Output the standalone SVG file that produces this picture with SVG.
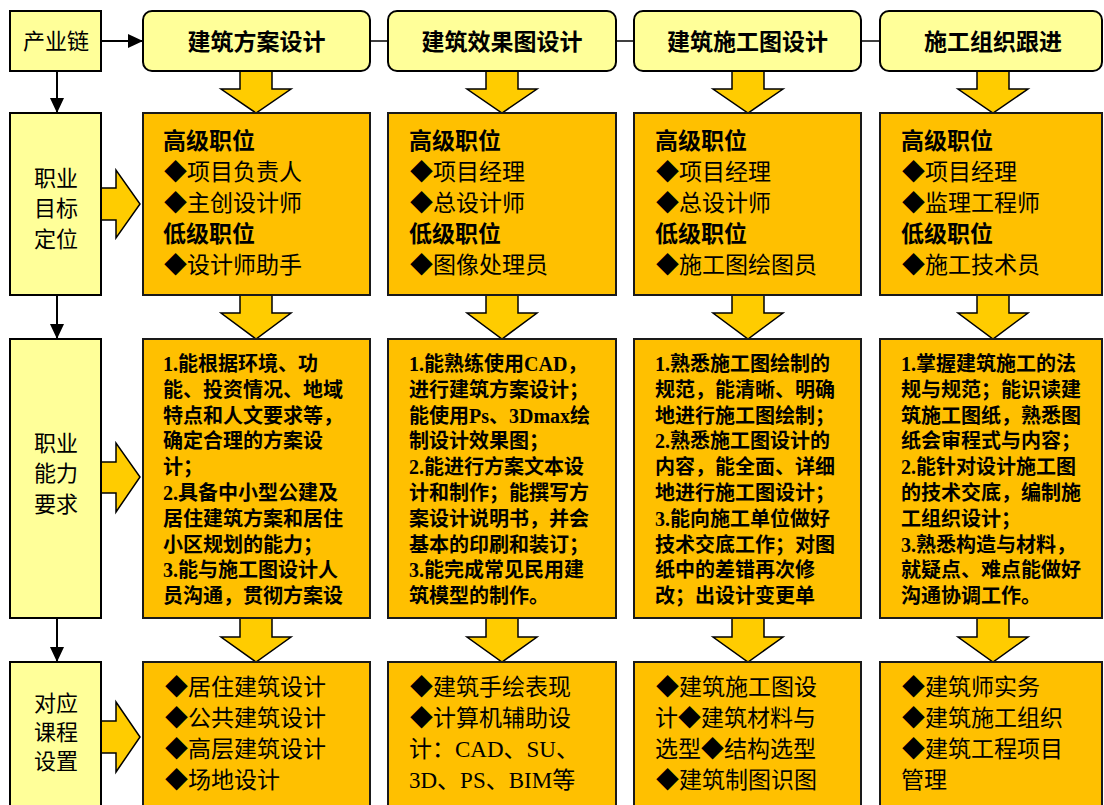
<svg xmlns="http://www.w3.org/2000/svg" width="1104" height="805" viewBox="0 0 1104 805">
<defs>
<style>
.lbox{fill:#FFFF99;stroke:#000;stroke-width:2}
.hbox{fill:#FFFF99;stroke:#000;stroke-width:2}
.obox{fill:#FFC000;stroke:#1a1a1a;stroke-width:2}
.barrow{fill:#FFCC00;stroke:#000;stroke-width:1.5;stroke-linejoin:miter}
.conn{stroke:#000;stroke-width:2;fill:none}
.thin{stroke:#000;stroke-width:1.5;fill:none}
text{font-family:"Liberation Sans","Noto Sans CJK SC",sans-serif;fill:#000}
.ht{font-size:23px;font-weight:700;text-anchor:middle}
.lt{font-size:22px;text-anchor:middle}
.hd{font-size:23px;font-weight:700}
.it{font-size:23px;font-family:"Liberation Serif","Noto Sans CJK SC",serif}
.ab{font-size:20px;font-weight:700;font-family:"Liberation Serif","Noto Sans CJK SC",serif}
</style>
<marker id="ah" markerUnits="userSpaceOnUse" markerWidth="16" markerHeight="16" viewBox="0 0 16 16" refX="15" refY="8" orient="auto">
<path d="M0,1 L15,8 L0,15 Z" fill="#000"/>
</marker>
</defs>
<rect width="1104" height="805" fill="#fff"/>

<g id="connectors">
<line class="conn" x1="101" y1="41" x2="143" y2="41" marker-end="url(#ah)"/>
<line class="thin" x1="370" y1="41" x2="388" y2="41"/>
<line class="thin" x1="616" y1="41" x2="634" y2="41"/>
<line class="thin" x1="861" y1="41" x2="880" y2="41"/>
<line class="conn" x1="57" y1="71" x2="57" y2="113" marker-end="url(#ah)"/>
<line class="conn" x1="57" y1="295" x2="57" y2="339" marker-end="url(#ah)"/>
<line class="conn" x1="57" y1="618" x2="57" y2="662" marker-end="url(#ah)"/>
<path class="barrow" d="M101,188 L116,188 L116,170 L140,204 L116,238 L116,220 L101,220"/>
<path class="barrow" d="M101,462 L116,462 L116,443 L140,477 L116,512 L116,493 L101,493"/>
<path class="barrow" d="M101,721 L116,721 L116,702 L140,737 L116,772 L116,753 L101,753"/>
<path class="barrow" d="M240,71 L240,89 L221,89 L256,113 L291,89 L272,89 L272,71"/>
<path class="barrow" d="M240,295 L240,313 L221,313 L256,339 L291,313 L272,313 L272,295"/>
<path class="barrow" d="M240,618 L240,637 L221,637 L256,662 L291,637 L272,637 L272,618"/>
<path class="barrow" d="M486,71 L486,89 L467,89 L502,113 L537,89 L518,89 L518,71"/>
<path class="barrow" d="M486,295 L486,313 L467,313 L502,339 L537,313 L518,313 L518,295"/>
<path class="barrow" d="M486,618 L486,637 L467,637 L502,662 L537,637 L518,637 L518,618"/>
<path class="barrow" d="M732,71 L732,89 L713,89 L748,113 L783,89 L764,89 L764,71"/>
<path class="barrow" d="M732,295 L732,313 L713,313 L748,339 L783,313 L764,313 L764,295"/>
<path class="barrow" d="M732,618 L732,637 L713,637 L748,662 L783,637 L764,637 L764,618"/>
<path class="barrow" d="M977,71 L977,89 L958,89 L993,113 L1028,89 L1009,89 L1009,71"/>
<path class="barrow" d="M977,295 L977,313 L958,313 L993,339 L1028,313 L1009,313 L1009,295"/>
<path class="barrow" d="M977,618 L977,637 L958,637 L993,662 L1028,637 L1009,637 L1009,618"/>
</g>

<g id="chain">
<rect class="lbox" x="10" y="11" width="91" height="60"/>
<text class="lt" x="56" y="49">产业链</text>
</g>
<g id="h1">
<rect class="hbox" x="143" y="11" width="227" height="60" rx="9"/>
<text class="ht" x="256.5" y="50">建筑方案设计</text>
</g>
<g id="h2">
<rect class="hbox" x="388" y="11" width="228" height="60" rx="9"/>
<text class="ht" x="502" y="50">建筑效果图设计</text>
</g>
<g id="h3">
<rect class="hbox" x="634" y="11" width="227" height="60" rx="9"/>
<text class="ht" x="747.5" y="50">建筑施工图设计</text>
</g>
<g id="h4">
<rect class="hbox" x="880" y="11" width="222" height="60" rx="9"/>
<text class="ht" x="993" y="50">施工组织跟进</text>
</g>

<g id="l1">
<rect class="lbox" x="10" y="113" width="91" height="182"/>
<text class="lt" x="56" y="186">职业</text>
<text class="lt" x="56" y="216">目标</text>
<text class="lt" x="56" y="247">定位</text>
</g>
<g id="l2">
<rect class="lbox" x="10" y="339" width="91" height="279"/>
<text class="lt" x="56" y="451">职业</text>
<text class="lt" x="56" y="481">能力</text>
<text class="lt" x="56" y="512">要求</text>
</g>
<g id="l3">
<rect class="lbox" x="10" y="662" width="91" height="150"/>
<text class="lt" x="56" y="711">对应</text>
<text class="lt" x="56" y="740">课程</text>
<text class="lt" x="56" y="769">设置</text>
</g>

<g id="r1c1">
<rect class="obox" x="143" y="113" width="227" height="182"/>
<text class="hd" x="163" y="149">高级职位</text>
<text class="it" x="164" y="180">◆项目负责人</text>
<text class="it" x="164" y="211">◆主创设计师</text>
<text class="hd" x="163" y="242">低级职位</text>
<text class="it" x="164" y="273">◆设计师助手</text>
</g>
<g id="r1c2">
<rect class="obox" x="388" y="113" width="228" height="182"/>
<text class="hd" x="409" y="149">高级职位</text>
<text class="it" x="410" y="180">◆项目经理</text>
<text class="it" x="410" y="211">◆总设计师</text>
<text class="hd" x="409" y="242">低级职位</text>
<text class="it" x="410" y="273">◆图像处理员</text>
</g>
<g id="r1c3">
<rect class="obox" x="634" y="113" width="227" height="182"/>
<text class="hd" x="655" y="149">高级职位</text>
<text class="it" x="656" y="180">◆项目经理</text>
<text class="it" x="656" y="211">◆总设计师</text>
<text class="hd" x="655" y="242">低级职位</text>
<text class="it" x="656" y="273">◆施工图绘图员</text>
</g>
<g id="r1c4">
<rect class="obox" x="880" y="113" width="222" height="182"/>
<text class="hd" x="901" y="149">高级职位</text>
<text class="it" x="902" y="180">◆项目经理</text>
<text class="it" x="902" y="211">◆监理工程师</text>
<text class="hd" x="901" y="242">低级职位</text>
<text class="it" x="902" y="273">◆施工技术员</text>
</g>

<g id="r2c1">
<rect class="obox" x="143" y="339" width="227" height="279"/>
<text class="ab" x="163" y="371">
<tspan x="163" y="371">1.能根据环境、功</tspan>
<tspan x="163" dy="25.8">能、投资情况、地域</tspan>
<tspan x="163" dy="25.8">特点和人文要求等，</tspan>
<tspan x="163" dy="25.8">确定合理的方案设</tspan>
<tspan x="163" dy="25.8">计；</tspan>
<tspan x="163" dy="25.8">2.具备中小型公建及</tspan>
<tspan x="163" dy="25.8">居住建筑方案和居住</tspan>
<tspan x="163" dy="25.8">小区规划的能力；</tspan>
<tspan x="163" dy="25.8">3.能与施工图设计人</tspan>
<tspan x="163" dy="25.8">员沟通，贯彻方案设</tspan>
</text>
</g>
<g id="r2c2">
<rect class="obox" x="388" y="339" width="228" height="279"/>
<text class="ab" x="409" y="371">
<tspan x="409" y="371">1.能熟练使用CAD，</tspan>
<tspan x="409" dy="25.8">进行建筑方案设计；</tspan>
<tspan x="409" dy="25.8">能使用Ps、3Dmax绘</tspan>
<tspan x="409" dy="25.8">制设计效果图；</tspan>
<tspan x="409" dy="25.8">2.能进行方案文本设</tspan>
<tspan x="409" dy="25.8">计和制作；能撰写方</tspan>
<tspan x="409" dy="25.8">案设计说明书，并会</tspan>
<tspan x="409" dy="25.8">基本的印刷和装订；</tspan>
<tspan x="409" dy="25.8">3.能完成常见民用建</tspan>
<tspan x="409" dy="25.8">筑模型的制作。</tspan>
</text>
</g>
<g id="r2c3">
<rect class="obox" x="634" y="339" width="227" height="279"/>
<text class="ab" x="655" y="371">
<tspan x="655" y="371">1.熟悉施工图绘制的</tspan>
<tspan x="655" dy="25.8">规范，能清晰、明确</tspan>
<tspan x="655" dy="25.8">地进行施工图绘制；</tspan>
<tspan x="655" dy="25.8">2.熟悉施工图设计的</tspan>
<tspan x="655" dy="25.8">内容，能全面、详细</tspan>
<tspan x="655" dy="25.8">地进行施工图设计；</tspan>
<tspan x="655" dy="25.8">3.能向施工单位做好</tspan>
<tspan x="655" dy="25.8">技术交底工作；对图</tspan>
<tspan x="655" dy="25.8">纸中的差错再次修</tspan>
<tspan x="655" dy="25.8">改；出设计变更单</tspan>
</text>
</g>
<g id="r2c4">
<rect class="obox" x="880" y="339" width="222" height="279"/>
<text class="ab" x="901" y="371">
<tspan x="901" y="371">1.掌握建筑施工的法</tspan>
<tspan x="901" dy="25.8">规与规范；能识读建</tspan>
<tspan x="901" dy="25.8">筑施工图纸，熟悉图</tspan>
<tspan x="901" dy="25.8">纸会审程式与内容；</tspan>
<tspan x="901" dy="25.8">2.能针对设计施工图</tspan>
<tspan x="901" dy="25.8">的技术交底，编制施</tspan>
<tspan x="901" dy="25.8">工组织设计；</tspan>
<tspan x="901" dy="25.8">3.熟悉构造与材料，</tspan>
<tspan x="901" dy="25.8">就疑点、难点能做好</tspan>
<tspan x="901" dy="25.8">沟通协调工作。</tspan>
</text>
</g>

<g id="r3c1">
<rect class="obox" x="143" y="662" width="227" height="150"/>
<text class="it" x="165" y="695">◆居住建筑设计</text>
<text class="it" x="165" y="726">◆公共建筑设计</text>
<text class="it" x="165" y="757">◆高层建筑设计</text>
<text class="it" x="165" y="788">◆场地设计</text>
</g>
<g id="r3c2">
<rect class="obox" x="388" y="662" width="228" height="150"/>
<text class="it" x="410" y="695">◆建筑手绘表现</text>
<text class="it" x="410" y="726">◆计算机辅助设</text>
<text class="it" x="409" y="757">计：CAD、SU、</text>
<text class="it" x="409" y="788">3D、PS、BIM等</text>
</g>
<g id="r3c3">
<rect class="obox" x="634" y="662" width="227" height="150"/>
<text class="it" x="656" y="695">◆建筑施工图设</text>
<text class="it" x="655" y="726">计◆建筑材料与</text>
<text class="it" x="655" y="757">选型◆结构选型</text>
<text class="it" x="656" y="788">◆建筑制图识图</text>
</g>
<g id="r3c4">
<rect class="obox" x="880" y="662" width="222" height="150"/>
<text class="it" x="902" y="695">◆建筑师实务</text>
<text class="it" x="902" y="726">◆建筑施工组织</text>
<text class="it" x="902" y="757">◆建筑工程项目</text>
<text class="it" x="901" y="788">管理</text>
</g>
</svg>
